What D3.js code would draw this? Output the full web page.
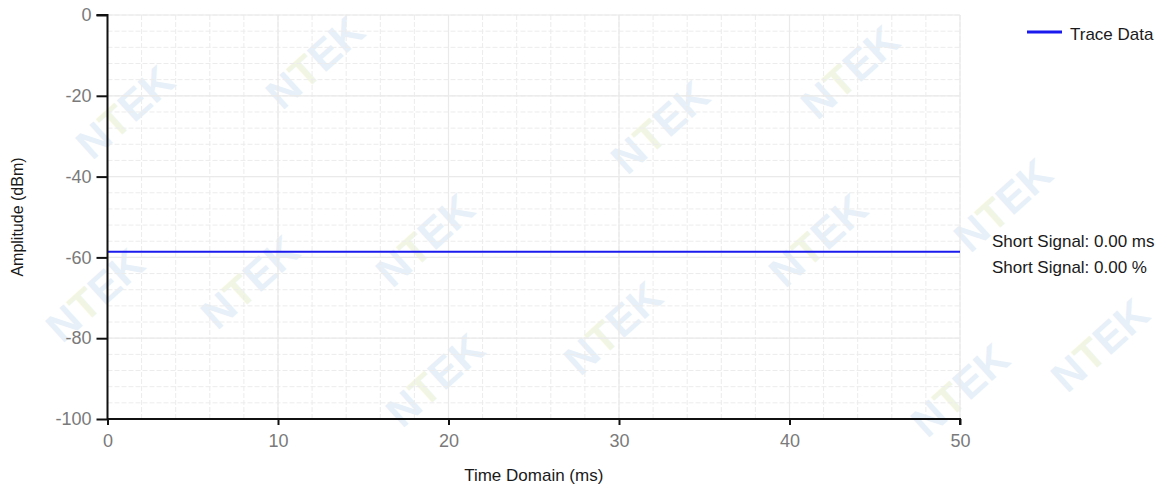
<!DOCTYPE html>
<html>
<head>
<meta charset="utf-8">
<script src="https://cdn.jsdelivr.net/npm/d3@7"></script>
<style>
  html, body { margin: 0; padding: 0; background: #ffffff; }
  svg { display: block; font-family: "Liberation Sans", Arial, sans-serif; }
</style>
</head>
<body>
<svg id="chart" width="1167" height="488"></svg>
<script>
// ---- data ----
const timeMs = [0, 50];
const amplitudeDbm = [-58.6, -58.6];
const xTicks = [0, 10, 20, 30, 40, 50];
const yTicks = [0, -20, -40, -60, -80, -100];
const seriesName = "Trace Data";
const infoLines = ["Short Signal: 0.00 ms", "Short Signal: 0.00 %"];
const xLabel = "Time Domain (ms)";
const yLabel = "Amplitude (dBm)";
// watermark (decoration only)
const watermarkSpots = [
  [125,112],[315,62],[850,72],[660,127],[1003,205],
  [95,295],[250,282],[425,240],[818,240],
  [613,328],[435,380],[960,390],[1100,345]
];

const svg = d3.select("#chart");
const m = { left: 107.5, right: 960, top: 15, bottom: 419 };

const x = d3.scaleLinear().domain([0, 50]).range([m.left, m.right]);
const y = d3.scaleLinear().domain([-100, 0]).range([m.bottom, m.top]);

// watermark
const wm = svg.append("g").attr("class", "watermark");
watermarkSpots.forEach(([cx, cy]) => {
  const t = wm.append("text")
    .attr("transform", `translate(${cx},${cy}) rotate(-42)`)
    .attr("text-anchor", "middle")
    .attr("dy", "0.35em")
    .attr("font-size", 42)
    .attr("font-weight", "bold")
    .attr("fill", "#e7f0f8");
  t.append("tspan").text("N");
  t.append("tspan").attr("fill", "#f1f6e4").text("T");
  t.append("tspan").text("EK");
});

// grid
const grid = svg.append("g");
const minorX = d3.range(0, 50.001, 2);
const minorY = d3.range(-100, 0.001, 4);
grid.selectAll(".mx").data(minorX).join("line")
  .attr("x1", d => x(d)).attr("x2", d => x(d))
  .attr("y1", m.top).attr("y2", m.bottom)
  .attr("stroke", "#ececec").attr("stroke-width", 1).attr("stroke-dasharray", "5,2");
grid.selectAll(".my").data(minorY).join("line")
  .attr("y1", d => y(d)).attr("y2", d => y(d))
  .attr("x1", m.left).attr("x2", m.right)
  .attr("stroke", "#ececec").attr("stroke-width", 1).attr("stroke-dasharray", "5,2");
grid.selectAll(".Mx").data(xTicks).join("line")
  .attr("x1", d => x(d)).attr("x2", d => x(d))
  .attr("y1", m.top).attr("y2", m.bottom)
  .attr("stroke", "#eaeaea").attr("stroke-width", 1.2);
grid.selectAll(".My").data(yTicks).join("line")
  .attr("y1", d => y(d)).attr("y2", d => y(d))
  .attr("x1", m.left).attr("x2", m.right)
  .attr("stroke", "#eaeaea").attr("stroke-width", 1.2);

// trace
const line = d3.line().x((d, i) => x(timeMs[i])).y(d => y(d));
svg.append("path").datum(amplitudeDbm)
  .attr("d", line)
  .attr("fill", "none")
  .attr("stroke", "#1a1aee")
  .attr("stroke-width", 1.8);

// axes
const fmt = d => String(d);
const xAxis = d3.axisBottom(x).tickValues(xTicks).tickFormat(fmt).tickSize(6).tickPadding(9);
const yAxis = d3.axisLeft(y).tickValues(yTicks).tickFormat(fmt).tickSize(11).tickPadding(5);

const gx = svg.append("g").attr("transform", `translate(0,${m.bottom})`).call(xAxis);
const gy = svg.append("g").attr("transform", `translate(${m.left},0)`).call(yAxis);
[gx, gy].forEach(g => {
  g.select(".domain").attr("stroke", "#111").attr("stroke-width", 2);
  g.selectAll(".tick line").attr("stroke", "#111").attr("stroke-width", 2);
  g.selectAll(".tick text")
    .attr("fill", "#7a7a7a")
    .attr("font-size", 18)
    .attr("font-family", "'Liberation Sans', Arial, sans-serif");
});
gx.select(".domain").attr("d", `M${m.left},0H${m.right}V6`);
gy.select(".domain").attr("d", `M-11,${m.top}H0V${m.bottom}`);

// axis labels
svg.append("text")
  .attr("x", (m.left + m.right) / 2).attr("y", 481)
  .attr("text-anchor", "middle")
  .attr("font-size", 17)
  .attr("fill", "#1a1a1a")
  .text(xLabel);
svg.append("text")
  .attr("transform", `translate(23,${217}) rotate(-90)`)
  .attr("text-anchor", "middle")
  .attr("font-size", 16)
  .attr("fill", "#1a1a1a")
  .text(yLabel);

// legend
const lg = svg.append("g");
lg.append("line")
  .attr("x1", 1027).attr("x2", 1062).attr("y1", 32).attr("y2", 32)
  .attr("stroke", "#1a1aee").attr("stroke-width", 3);
lg.append("text")
  .attr("x", 1070).attr("y", 40)
  .attr("font-size", 17)
  .attr("fill", "#1a1a1a")
  .text(seriesName);

// info texts
svg.append("g").selectAll("text").data(infoLines).join("text")
  .attr("x", 992)
  .attr("y", (d, i) => 247 + i * 26)
  .attr("font-size", 17)
  .attr("fill", "#1a1a1a")
  .text(d => d);
</script>
</body>
</html>
